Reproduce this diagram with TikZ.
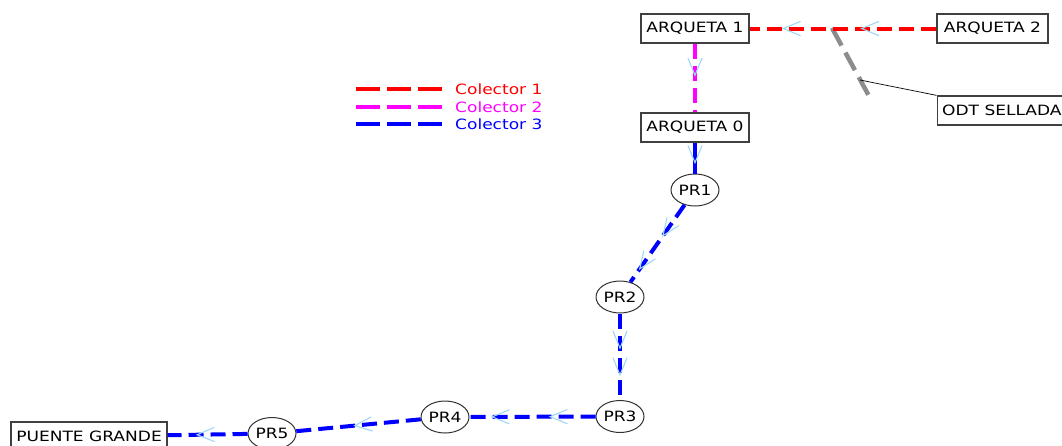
\documentclass[tikz,border=0pt]{standalone}
\usepackage{fontspec}
\usetikzlibrary{shapes.geometric,decorations.markings}
\newfontfamily\labfont[FakeStretch=1.2]{DejaVu Sans}
\definecolor{chevc}{HTML}{9ED8F5}
\definecolor{boxc}{HTML}{404040}
\definecolor{odtgray}{HTML}{8C8C8C}
\definecolor{magc}{HTML}{FF00FF}
\definecolor{redc}{HTML}{FF0000}
\definecolor{bluec}{HTML}{0000FF}
\tikzset{
  lab/.style={font=\labfont\fontsize{14.2}{15}\selectfont},
  box/.style={lab, draw=boxc, line width=1.3pt, rectangle, minimum height=29pt, inner sep=0pt, fill=white},
  pr/.style={lab, draw=black!80, line width=1pt, ellipse, minimum width=48pt, minimum height=32pt, inner sep=0pt, fill=white},
  col/.style={line width=4pt, dash pattern=on 15pt off 7pt},
  colA/.style={col, redc},
  colB/.style={col, magc},
  colC/.style={col, bluec},
  legline/.style={line width=4pt, dash pattern=on 24pt off 7pt},
  chev/.style={postaction={decorate, decoration={markings,
     mark=at position #1 with {\draw[chevc, line width=1.1pt, solid, line cap=round] (-17pt,7pt) -- (0pt,0pt) -- (-17pt,-7pt);}}}}
}
\begin{document}
\begin{tikzpicture}[x=1pt, y=-1pt]
\useasboundingbox (0,0) rectangle (1062,445);
% nodes
\node[box, minimum width=108pt] (a1) at (695,28.5) {ARQUETA 1};
\node[box, minimum width=111pt] (a2) at (992.5,28.5) {ARQUETA 2};
\node[box, minimum width=108pt] (a0) at (695,127.5) {ARQUETA 0};
\node[box, anchor=west, inner xsep=5pt] (odt) at (936.5,110.5) {ODT SELLADA};
\node[box, minimum width=156pt] (pg) at (89,436.5) {PUENTE GRANDE};
\node[pr] (pr1) at (695,190) {PR1};
\node[pr] (pr2) at (620,297) {PR2};
\node[pr] (pr3) at (620,416.5) {PR3};
\node[pr] (pr4) at (445,417) {PR4};
\node[pr] (pr5) at (272,433.5) {PR5};
% legend
\coordinate (l1a) at (356,89); \coordinate (l1b) at (443,89);
\coordinate (l2a) at (356,107); \coordinate (l2b) at (443,107);
\coordinate (l3a) at (356,124); \coordinate (l3b) at (443,124);
\draw[legline, redc] (l1a) -- (l1b);
\draw[legline, magc] (l2a) -- (l2b);
\draw[legline, bluec] (l3a) -- (l3b);
\node[lab, text=redc, anchor=west, inner sep=0pt] (t1) at (455,89) {Colector 1};
\node[lab, text=magc, anchor=west, inner sep=0pt] (t2) at (455,107) {Colector 2};
\node[lab, text=bluec, anchor=west, inner sep=0pt] (t3) at (455,124) {Colector 3};
% gray ODT branch
\coordinate (g1) at (832,28);
\coordinate (g2) at (869,96);
\coordinate (lead) at (860,80);
\draw[odtgray, line width=4.5pt, dash pattern=on 20pt off 8pt] (g1) -- (g2);
\draw[black, line width=0.7pt] (lead) -- (odt.north west);
% collectors
\draw[colA, chev=0.40, chev=0.82] (a2) -- (a1);
\draw[colB, chev=0.46] (a1) -- (a0);
\draw[colC, solid, chev=0.65] (a0) -- (pr1);
\draw[colC, chev=0.40, chev=0.83] (pr1) -- (pr2);
\draw[colC, chev=0.40, chev=0.71] (pr2) -- (pr3);
\draw[colC, chev=0.36, chev=0.82] (pr3) -- (pr4);
\draw[colC, chev=0.53] (pr4) -- (pr5);
\draw[colC, chev=0.63] (pr5) -- (pg);
\end{tikzpicture}
\end{document}
